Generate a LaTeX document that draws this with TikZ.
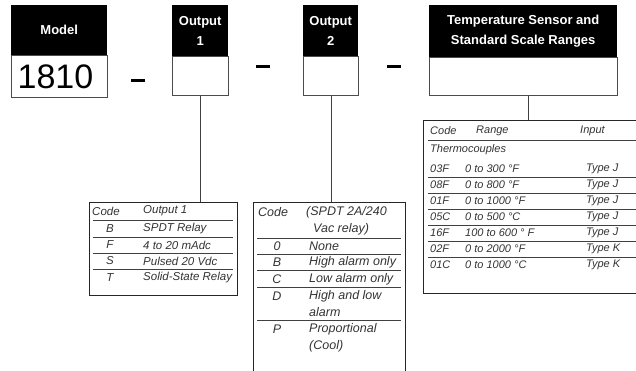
\documentclass[tikz,border=0pt]{standalone}
\usepackage{fontspec}
\setmainfont{Liberation Sans}
\newcommand{\hdfont}{\bfseries\fontsize{13}{20}\selectfont}
\newcommand{\tabfont}{\itshape\fontsize{11}{13}\selectfont}
\newcommand{\midfont}{\itshape\fontsize{11.5}{13}\selectfont}
\newcommand{\widefont}{\itshape\fontsize{12.5}{15}\selectfont}

\begin{document}
\begin{tikzpicture}[x=1pt, y=1pt,
  every node/.style={inner sep=0pt},
  hdr/.style={fill=black, text=white, font=\hdfont, align=center, anchor=north west},
  slot/.style={draw=black!70, line width=1pt, fill=white, anchor=north west},
  sep/.style={fill=black, minimum width=14pt, minimum height=3pt},
  frame/.style={draw=black!85, line width=1.2pt, anchor=north west},
  rule/.style={draw=black!75, line width=0.8pt},
  cell/.style={font=\tabfont, text=black!80, anchor=west},
  key/.style={font=\tabfont, text=black!80},
  stem/.style={draw=black!75, line width=1pt}]
\useasboundingbox (0,0) rectangle (636,-371);
\clip (0,0) rectangle (636,-371);
% model number blocks
\node[hdr, minimum width=96, minimum height=50] (modelhd) at (11,-5) {Model};
\node[slot, minimum width=96, minimum height=42, font=\fontsize{34}{36}\selectfont] (model) at (11,-55) {\hspace*{-8pt}1810};
\node[sep] (sep1) at (137.5,-81) {};
\node[hdr, minimum width=56, minimum height=51] (out1hd) at (172,-5) {Output\\1};
\node[slot, minimum width=56, minimum height=39] (out1) at (172,-56) {};
\node[sep] (sep2) at (262.5,-67) {};
\node[hdr, minimum width=55, minimum height=51] (out2hd) at (303,-5) {Output\\2};
\node[slot, minimum width=55, minimum height=39] (out2) at (303,-56) {};
\node[sep] (sep3) at (393.5,-67) {};
\node[hdr, minimum width=188, minimum height=52] (temphd) at (429,-5) {Temperature Sensor and\\Standard Scale Ranges};
\node[slot, minimum width=188, minimum height=38] (temp) at (429,-57) {};

% option tables
\node[frame, minimum width=148, minimum height=93] (tab1) at (89,-202) {};
\node[frame, minimum width=152, minimum height=190] (tab2) at (253,-202) {};
\node[frame, minimum width=230, minimum height=173] (tab3) at (423,-120) {};
\draw[stem] (out1.south) -- (out1.south |- tab1.north);
\draw[stem] (out2.south) -- (out2.south |- tab2.north);
\draw[stem] ([xshift=5pt]temp.south) -- ([xshift=5pt]temp.south |- tab3.north);

% output 1
\begin{scope}[cell/.append style={font=\midfont}, key/.append style={font=\midfont}]
\node[cell] (c1h) at (92,-211) {Code};
\node[cell] (o1h) at (143,-211) {Output 1};
\draw[rule] (93,-220) -- (233,-220);
\node[key] (c1b) at (110,-229) {B};
\node[cell] (o1b) at (143,-229) {SPDT Relay};
\draw[rule] (93,-237) -- (233,-237);
\node[key] (c1f) at (110,-245) {F};
\node[cell] (o1f) at (143,-245) {4 to 20 mAdc};
\draw[rule] (93,-253) -- (233,-253);
\node[key] (c1s) at (110,-261) {S};
\node[cell] (o1s) at (143,-261) {Pulsed 20 Vdc};
\draw[rule] (93,-269) -- (233,-269);
\node[key] (c1t) at (110,-278) {T};
\node[cell] (o1t) at (143,-278) {Solid-State Relay};
\end{scope}

% output 2, set a size larger
\begin{scope}[cell/.append style={font=\widefont}, key/.append style={font=\widefont}]
\node[cell] (c2h) at (258,-212) {Code};
\node[cell] (o2h) at (306,-212) {(SPDT 2A/240};
\node[cell] (o2h2) at (313,-229) {Vac relay)};
\draw[rule] (257,-238) -- (401,-238);
\node[key] (c20) at (277,-246) {0};
\node[cell] (o20) at (309,-246) {None};
\draw[rule] (257,-254) -- (401,-254);
\node[key] (c2b) at (277,-262) {B};
\node[cell] (o2b) at (309,-262) {High alarm only};
\draw[rule] (257,-270) -- (401,-270);
\node[key] (c2c) at (277,-279) {C};
\node[cell] (o2c) at (309,-279) {Low alarm only};
\draw[rule] (257,-287) -- (401,-287);
\node[key] (c2d) at (277,-296) {D};
\node[cell] (o2d) at (309,-296) {High and low};
\node[cell] (o2d2) at (309,-312) {alarm};
\draw[rule] (257,-320) -- (401,-320);
\node[key] (c2p) at (277,-329) {P};
\node[cell] (o2p) at (309,-329) {Proportional};
\node[cell] (o2p2) at (309,-346) {(Cool)};
\end{scope}

% sensor ranges
\node[cell] (c3h) at (430,-131) {Code};
\node[cell] (r3h) at (476,-131) {Range};
\node[cell] (i3h) at (580,-131) {Input};
\draw[rule] (428,-140) -- (640,-140);
\node[cell] (tc) at (430,-150) {Thermocouples};
\node[cell] (c303f) at (430,-169) {03F};
\node[cell] (r303f) at (465,-169) {0 to 300 °F};
\node[cell] (i303f) at (586,-169) {Type J};
\draw[rule] (428,-177) -- (640,-177);
\node[cell] (c308f) at (430,-185) {08F};
\node[cell] (r308f) at (465,-185) {0 to 800 °F};
\node[cell] (i308f) at (586,-185) {Type J};
\draw[rule] (428,-193) -- (640,-193);
\node[cell] (c301f) at (430,-201) {01F};
\node[cell] (r301f) at (465,-201) {0 to 1000 °F};
\node[cell] (i301f) at (586,-201) {Type J};
\draw[rule] (428,-209) -- (640,-209);
\node[cell] (c305c) at (430,-217) {05C};
\node[cell] (r305c) at (465,-217) {0 to 500 °C};
\node[cell] (i305c) at (586,-217) {Type J};
\draw[rule] (428,-225) -- (640,-225);
\node[cell] (c316f) at (430,-233) {16F};
\node[cell] (r316f) at (465,-233) {100 to 600 ° F};
\node[cell] (i316f) at (586,-233) {Type J};
\draw[rule] (428,-241) -- (640,-241);
\node[cell] (c302f) at (430,-249) {02F};
\node[cell] (r302f) at (465,-249) {0 to 2000 °F};
\node[cell] (i302f) at (586,-249) {Type K};
\draw[rule] (428,-257) -- (640,-257);
\node[cell] (c301c) at (430,-265) {01C};
\node[cell] (r301c) at (465,-265) {0 to 1000 °C};
\node[cell] (i301c) at (586,-265) {Type K};
\end{tikzpicture}
\end{document}
